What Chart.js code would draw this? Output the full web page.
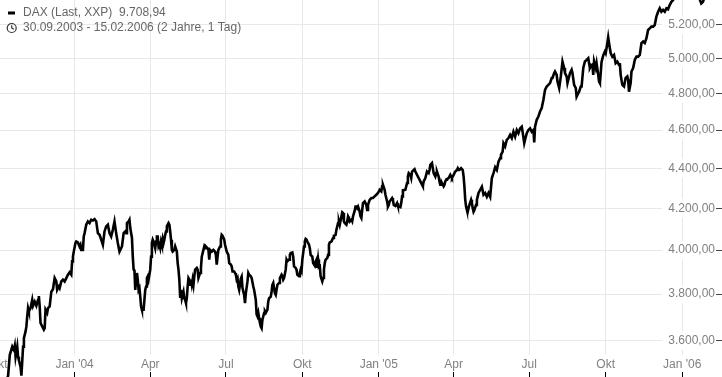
<!DOCTYPE html>
<html>
<head>
<meta charset="utf-8">
<title>DAX 30.09.2003 - 15.02.2006</title>
<script src="https://cdn.jsdelivr.net/npm/chart.js@4.4.1/dist/chart.umd.min.js"></script>
<style>
  html, body { margin: 0; padding: 0; background: #fff; }
  #wrap { width: 722px; height: 377px; position: relative; }
</style>
</head>
<body>
<div id="wrap"><canvas id="daxChart"></canvas></div>
<script>
// Zeitraum / Legende
const startDate = '2003-09-30';
const seriesLabel = 'DAX (Last, XXP)  9.708,94';
const periodLabel = '30.09.2003 - 15.02.2006 (2 Jahre, 1 Tag)';

// Handelstage als Tage seit startDate
const days = [
  0, 3, 7, 10, 13, 15, 18, 20, 21, 22, 24, 25, 26, 28, 29, 31, 32, 34, 35, 36, 37, 38, 40, 42, 43, 45, 47, 49, 50, 51,
  52, 54, 56, 57, 58, 60, 61, 63, 65, 67, 69, 71, 72, 74, 75, 77, 79, 81, 83, 85, 87, 89, 90, 91, 92, 94, 95, 97, 99, 100,
  101, 103, 104, 105, 107, 109, 111, 113, 115, 117, 119, 121, 123, 125, 127, 129, 131, 133, 135, 137, 139, 141, 143, 145, 147, 148,
  150, 152, 154, 155, 156, 158, 159, 160, 162, 163, 164, 165, 166, 167, 168, 169, 170, 171, 172, 173, 174, 176, 177, 178, 179, 180,
  181, 182, 184, 185, 186, 187, 188, 190, 191, 192, 193, 194, 195, 196, 197, 198, 199, 200, 201, 202, 203, 204, 206, 207, 208, 209,
  210, 211, 213, 214, 216, 217, 218, 219, 220, 221, 222, 223, 224, 225, 226, 227, 228, 229, 230, 231, 232, 233, 234, 235, 236, 237,
  238, 240, 241, 242, 244, 245, 246, 248, 249, 250, 251, 253, 254, 255, 256, 257, 258, 260, 262, 263, 264, 265, 266, 268, 269, 270,
  271, 273, 274, 276, 278, 279, 281, 282, 283, 285, 286, 287, 288, 289, 290, 291, 293, 294, 295, 297, 298, 299, 301, 302, 303, 305,
  306, 308, 309, 310, 311, 312, 313, 314, 315, 316, 317, 318, 319, 321, 322, 323, 325, 326, 327, 329, 330, 331, 332, 333, 334, 335,
  336, 337, 339, 340, 342, 343, 344, 345, 347, 348, 349, 351, 352, 353, 355, 356, 357, 359, 360, 361, 363, 364, 365, 366, 367, 369,
  370, 371, 372, 373, 375, 376, 377, 379, 380, 382, 383, 384, 385, 386, 387, 388, 389, 391, 392, 393, 394, 395, 397, 398, 399, 400,
  402, 403, 404, 405, 407, 408, 410, 411, 412, 414, 415, 416, 417, 418, 420, 421, 422, 423, 424, 426, 427, 428, 430, 431, 432, 433,
  434, 436, 437, 438, 439, 440, 442, 444, 445, 446, 448, 450, 452, 454, 456, 458, 460, 462, 463, 464, 466, 467, 469, 470, 471, 472,
  475, 476, 477, 479, 481, 482, 485, 486, 487, 488, 491, 493, 494, 495, 497, 498, 499, 501, 502, 503, 505, 507, 509, 511, 512, 513,
  515, 516, 517, 519, 520, 521, 523, 524, 525, 527, 528, 529, 531, 532, 533, 534, 535, 537, 538, 539, 540, 541, 543, 545, 546, 547,
  549, 550, 551, 553, 554, 555, 556, 558, 559, 560, 561, 562, 563, 564, 565, 566, 567, 568, 570, 571, 572, 573, 574, 576, 577, 578,
  579, 581, 583, 585, 587, 589, 591, 593, 595, 597, 599, 601, 603, 605, 606, 608, 609, 611, 613, 615, 617, 619, 621, 623, 625, 627,
  629, 631, 632, 634, 635, 637, 639, 641, 643, 645, 646, 647, 649, 651, 653, 655, 657, 659, 661, 663, 665, 667, 668, 670, 671, 673,
  674, 676, 678, 680, 682, 683, 685, 686, 687, 689, 691, 692, 694, 696, 697, 699, 700, 702, 703, 705, 707, 709, 711, 712, 713, 714,
  716, 717, 718, 720, 721, 723, 724, 725, 726, 727, 729, 731, 732, 734, 735, 736, 738, 740, 742, 744, 746, 748, 749, 750, 752, 754,
  756, 758, 759, 760, 762, 763, 765, 767, 769, 771, 773, 775, 777, 779, 781, 783, 785, 787, 789, 791, 793, 795, 797, 799, 801, 803,
  805, 807, 809, 811, 813, 817, 821, 826, 831, 836, 841, 844, 846, 847, 849, 851, 857, 863, 869
];

// Schlusskurse in Punkten
const closes = [
  3257, 3330, 3390, 3425, 3456, 3540, 3575, 3561, 3578, 3533, 3575, 3533, 3519, 3491, 3456, 3575, 3610, 3639, 3660, 3703, 3739, 3725, 3739, 3775, 3749, 3767, 3749, 3775, 3792, 3746,
  3675, 3660, 3646, 3653, 3732, 3718, 3739, 3746, 3811, 3822, 3872, 3857, 3819, 3834, 3827, 3857, 3865, 3857, 3872, 3887, 3898, 3887, 3948, 3970, 3993, 4033, 4040, 4036, 4017, 4025,
  4001, 4001, 4064, 4080, 4120, 4136, 4128, 4144, 4140, 4147, 4136, 4080, 4072, 4049, 4025, 4088, 4112, 4120, 4080, 4064, 4096, 4136, 4080, 4033, 3993, 4001,
  4017, 4080, 4088, 4080, 4128, 4136, 4144, 4104, 4057, 3970, 3910, 3907, 3819, 3865, 3895, 3865, 3819, 3827, 3789, 3746, 3732, 3732, 3775, 3819, 3834, 3872,
  3880, 3865, 3910, 3970, 4033, 4049, 4040, 4009, 4040, 4064, 4064, 4017, 4025, 4009, 4040, 4025, 4052, 4033, 4049, 4072, 4088, 4112, 4128, 4120, 4088, 4049,
  4001, 3993, 4001, 4017, 3993, 3940, 3910, 3865, 3789, 3819, 3782, 3797, 3811, 3782, 3775, 3761, 3782, 3834, 3872, 3865, 3842, 3865, 3842, 3865, 3842, 3880,
  3910, 3918, 3910, 3872, 3895, 3918, 3970, 4001, 4017, 4009, 4017, 4009, 4001, 3956, 4001, 4001, 3993, 4001, 3993, 3978, 3933, 3970, 4001, 4017, 4049, 4072,
  4068, 4049, 4025, 3993, 3978, 3940, 3933, 3925, 3902, 3902, 3895, 3887, 3865, 3872, 3834, 3819, 3869, 3878, 3827, 3797, 3761, 3804, 3857, 3895, 3887, 3880,
  3872, 3834, 3819, 3819, 3775, 3711, 3703, 3718, 3696, 3675, 3660, 3653, 3689, 3718, 3725, 3718, 3732, 3768, 3782, 3789, 3811, 3842, 3850, 3827, 3804, 3797,
  3819, 3842, 3850, 3872, 3887, 3880, 3865, 3872, 3910, 3956, 3948, 3956, 3978, 3986, 3989, 3970, 3925, 3918, 3910, 3887, 3880, 3895, 3910, 3902, 3956, 4017,
  4040, 4052, 4049, 4040, 4025, 4009, 3978, 3970, 3940, 3928, 3948, 3956, 3918, 3956, 3922, 3925, 3880, 3857, 3872, 3910, 3940, 3956, 3963, 3978, 4025, 4036,
  4040, 4049, 4057, 4068, 4072, 4096, 4128, 4136, 4120, 4160, 4180, 4176, 4136, 4128, 4120, 4136, 4160, 4152, 4136, 4144, 4136, 4160, 4188, 4208, 4208, 4200,
  4208, 4183, 4160, 4152, 4191, 4225, 4233, 4216, 4191, 4216, 4241, 4250, 4250, 4258, 4266, 4275, 4291, 4283, 4308, 4316, 4291, 4266, 4233, 4208, 4216, 4233,
  4250, 4241, 4216, 4211, 4225, 4211, 4205, 4225, 4258, 4288, 4291, 4325, 4358, 4375, 4366, 4350, 4383, 4391, 4395, 4383, 4366, 4350, 4333, 4316, 4308, 4333,
  4350, 4366, 4383, 4375, 4391, 4417, 4426, 4400, 4375, 4358, 4375, 4383, 4358, 4333, 4316, 4316, 4325, 4308, 4316, 4333, 4341, 4345, 4350, 4366, 4358, 4350,
  4366, 4375, 4383, 4391, 4400, 4391, 4391, 4400, 4400, 4391, 4358, 4308, 4241, 4208, 4191, 4183, 4200, 4216, 4241, 4225, 4200, 4183, 4191, 4216, 4241, 4258,
  4275, 4291, 4306, 4266, 4275, 4256, 4275, 4256, 4350, 4375, 4405, 4391, 4434, 4452, 4469, 4486, 4530, 4513, 4548, 4557, 4574, 4557, 4591, 4565, 4600, 4583,
  4609, 4618, 4591, 4530, 4548, 4583, 4600, 4609, 4591, 4600, 4534, 4618, 4655, 4673, 4700, 4719, 4764, 4820, 4839, 4848, 4858, 4887, 4887, 4915, 4924, 4905,
  4867, 4830, 4896, 4981, 4944, 4915, 4896, 4858, 4877, 4915, 4934, 4915, 4848, 4830, 4782, 4801, 4810, 4839, 4839, 4944, 4982, 4991, 5001, 4972, 4944, 4953,
  4963, 4905, 4982, 4944, 4972, 4905, 4867, 4858, 4915, 4979, 5017, 5040, 5030, 5090, 5124, 5090, 5030, 5010, 5020, 4972, 4981, 4962, 4972, 4905, 4848, 4839,
  4887, 4896, 4877, 4810, 4858, 4924, 4944, 4991, 5010, 5010, 5020, 5090, 5099, 5090, 5119, 5168, 5178, 5188, 5188, 5198, 5249, 5279, 5300, 5279, 5290, 5279,
  5300, 5294, 5320, 5340, 5350, 5410, 5450, 5470, 5460, 5440, 5410, 5370, 5344, 5330, 5340, 5370, 5450, 5520, 5690
];

// Achsen
const tickDates = ['2003-10-01', '2004-01-01', '2004-04-01', '2004-07-01', '2004-10-01',
                   '2005-01-01', '2005-04-01', '2005-07-01', '2005-10-01', '2006-01-01'];
const tickLabels = ['Okt', "Jan '04", 'Apr', 'Jul', 'Okt', "Jan '05", 'Apr', 'Jul', 'Okt', "Jan '06"];
const yTicks = [3600, 3800, 4000, 4200, 4400, 4600, 4800, 5000, 5200];
const xMin = 3.24, xMax = 864.7;
const yMin = 3471, yMax = 5351.5;

function dayOf(s) {
  return (Date.parse(s) - Date.parse(startDate)) / 86400000;
}

// Zahlen im deutschen Format: 5.200,00
function fmtDe(v) {
  return v.toFixed(2).replace('.', ',').replace(/\B(?=(\d{3})+(?!\d))/g, '.');
}

// kleine Symbole fuer die Legende
function makeDash() {
  const c = document.createElement('canvas');
  c.width = 10; c.height = 4;
  const g = c.getContext('2d');
  g.fillStyle = '#000';
  g.fillRect(3, 0.5, 7, 3);
  return c;
}
function makeClock() {
  const c = document.createElement('canvas');
  c.width = 14; c.height = 12;
  const g = c.getContext('2d');
  g.strokeStyle = '#333';
  g.lineWidth = 1.2;
  g.beginPath();
  g.arc(8.7, 6, 4.5, 0, Math.PI * 2);
  g.stroke();
  g.beginPath();
  g.moveTo(8.7, 3.2);
  g.lineTo(8.7, 6);
  g.lineTo(10.9, 7.3);
  g.stroke();
  return c;
}

const dashIcon = makeDash();
const clockIcon = makeClock();

function zeroPadding(axis) {
  axis.paddingLeft = 0;
  axis.paddingRight = 0;
  axis.paddingTop = 0;
  axis.paddingBottom = 0;
}

Chart.defaults.font.family = '"Liberation Sans", Arial, sans-serif';
Chart.defaults.font.size = 12;

const ctx = document.getElementById('daxChart').getContext('2d');

new Chart(ctx, {
  type: 'line',
  data: {
    datasets: [{
      label: seriesLabel,
      data: days.map((d, i) => ({ x: d, y: closes[i] })),
      borderColor: '#000',
      borderWidth: 2.6,
      pointRadius: 0,
      tension: 0,
      fill: false,
      clip: false
    }]
  },
  options: {
    responsive: true,
    maintainAspectRatio: false,
    animation: false,
    layout: { padding: 0, autoPadding: false },
    scales: {
      x: {
        type: 'linear',
        bounds: 'data',
        min: xMin,
        max: xMax,
        afterBuildTicks: (axis) => {
          axis.ticks = tickDates.map((d) => ({ value: dayOf(d) }));
        },
        afterFit: (axis) => {
          axis.height = 5;
          zeroPadding(axis);
        },
        grid: { color: '#e8e8e8', tickColor: '#000', tickLength: 5 },
        border: { display: false },
        ticks: {
          mirror: true,
          padding: 0,
          autoSkip: false,
          maxRotation: 0,
          color: '#808080',
          callback: (v, i) => tickLabels[i],
          showLabelBackdrop: true,
          backdropColor: '#fff',
          backdropPadding: { top: 3, bottom: 0, left: 2, right: 2 }
        }
      },
      y: {
        type: 'logarithmic',
        position: 'right',
        bounds: 'data',
        min: yMin,
        max: yMax,
        afterBuildTicks: (axis) => {
          axis.ticks = yTicks.map((v) => ({ value: v }));
        },
        afterFit: (axis) => {
          axis.width = 6;
          zeroPadding(axis);
        },
        grid: { color: '#e8e8e8', tickColor: '#444', tickLength: 8 },
        border: { display: false },
        ticks: {
          mirror: true,
          padding: -1,
          autoSkip: false,
          color: '#808080',
          callback: (v) => fmtDe(v),
          showLabelBackdrop: true,
          backdropColor: '#fff',
          backdropPadding: { top: 2, bottom: 2, left: 6, right: 1 }
        }
      }
    },
    plugins: {
      tooltip: { enabled: false },
      legend: {
        position: 'chartArea',
        align: 'start',
        title: { display: true, text: '', font: { size: 4, lineHeight: 1 }, padding: 0 },
        labels: {
          usePointStyle: true,
          pointStyleWidth: 14,
          padding: 3,
          color: '#333',
          font: { size: 12 },
          generateLabels: () => [
            { text: seriesLabel, pointStyle: dashIcon, fillStyle: '#000', strokeStyle: '#000', lineWidth: 0, hidden: false, datasetIndex: 0 },
            { text: periodLabel, pointStyle: clockIcon, fillStyle: '#fff', strokeStyle: '#333', lineWidth: 0, hidden: false }
          ]
        }
      }
    }
  }
});
</script>
</body>
</html>
